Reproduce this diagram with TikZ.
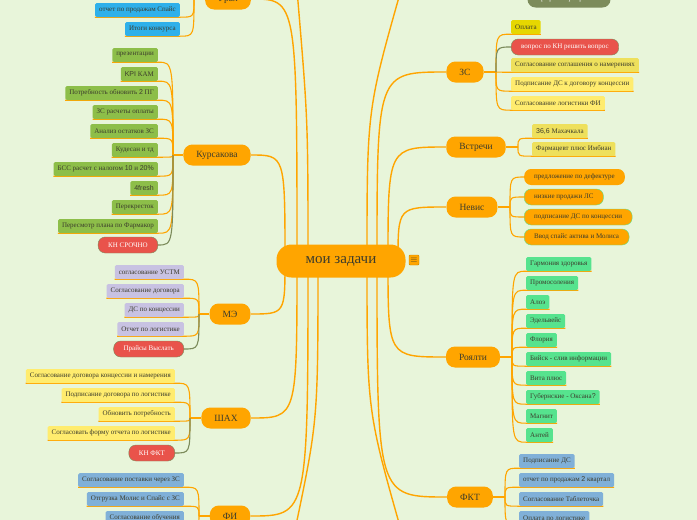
\documentclass[tikz,border=0pt]{standalone}
\usepackage{fontspec}
\setmainfont{Liberation Serif}
\newfontfamily\sansnum{Liberation Sans}
\usetikzlibrary{positioning,calc,backgrounds}
\definecolor{bgc}{HTML}{E8F5DA}
\definecolor{brorange}{HTML}{FFA500}
\definecolor{txtdk}{HTML}{3C3C2C}
\definecolor{lfgreen}{HTML}{8DBE49}
\definecolor{lfblue}{HTML}{2EB0EA}
\definecolor{lflav}{HTML}{C8C2E2}
\definecolor{lfyel}{HTML}{FFEC6E}
\definecolor{lfmust}{HTML}{E6D700}
\definecolor{lfsand}{HTML}{EEE05C}
\definecolor{lfmint}{HTML}{56E38E}
\definecolor{lfsteel}{HTML}{80B0D8}
\definecolor{redpill}{HTML}{E9534B}
\definecolor{olivedk}{HTML}{7C8B5B}
\definecolor{pillgrn}{HTML}{5FE08A}
\tikzset{
  rootnd/.style={rounded corners=15pt,fill=brorange,minimum width=129,minimum height=33,font=\fontsize{15}{17}\selectfont,text=txtdk},
  brnd/.style={rounded corners=9pt,fill=brorange,minimum height=21,inner xsep=13,font=\fontsize{9.5}{11}\selectfont,text=txtdk},
  leaf/.style={fill=#1,rounded corners=1.5pt,minimum height=14,inner xsep=4,inner ysep=0,font=\fontsize{7}{8}\selectfont,text=txtdk},
  pill/.style={fill=#1,rounded corners=7pt,minimum height=16,inner xsep=10,inner ysep=0,font=\fontsize{7}{8}\selectfont,text=txtdk},
  warnpill/.style={pill=redpill,draw=olivedk,text=white},
  rootln/.style={draw=brorange,line width=1.4pt},
  leafln/.style={draw=brorange,line width=1.1pt},
  warnln/.style={draw=olivedk,line width=1.1pt}
}
\begin{document}
\begin{tikzpicture}[x=1pt,y=-1pt]
  \useasboundingbox (0,0) rectangle (697,520);

  % centre and branches
  \node[rootnd] (root) at (341,261) {мои задачи};
  \node[fill=brorange,draw=brorange!80!black,line width=0.4pt,rounded corners=1pt,minimum size=10,inner sep=0,font=\fontsize{9}{9}\selectfont,text=txtdk] (menu) at (414,260) {$\equiv$};

  \node[brnd] (ural) at (228,-1) {Урал};
  \node[brnd] (kurs) at (217,155) {Курсакова};
  \node[brnd] (me) at (230,314) {МЭ};
  \node[brnd] (shah) at (226,418) {ШАХ};
  \node[brnd] (fi) at (230,516) {ФИ};
  \node[brnd] (zs) at (465,72) {ЗС};
  \node[brnd] (vstr) at (476,147) {Встречи};
  \node[brnd] (nevis) at (472,207) {Невис};
  \node[brnd] (royal) at (473,357) {Роялти};
  \node[brnd] (fkt) at (470,497) {ФКТ};
  \node[pill=olivedk,text=white,rounded corners=8pt,minimum height=17,inner xsep=10] (graf) at (569,-1) {График мероприятий};

  % Урал
  \node[leaf=lfblue,anchor=east] (u_spice) at (180,10) {отчет по продажам Спайс};
  \node[leaf=lfblue,anchor=east] (u_konk) at (180,29) {Итоги конкурса};

  % Курсакова
  \node[leaf=lfgreen,anchor=east] (k_pres) at (158,55) {презентации};
  \node[leaf=lfgreen,anchor=east] (k_kpi) at (158,74) {{\sansnum KPI} КАМ};
  \node[leaf=lfgreen,anchor=east] (k_pg) at (158,93) {Потребность обновить {\sansnum 2} ПГ};
  \node[leaf=lfgreen,anchor=east] (k_opl) at (158,112) {ЗС расчеты оплаты};
  \node[leaf=lfgreen,anchor=east] (k_ost) at (158,131) {Анализ остатков ЗС};
  \node[leaf=lfgreen,anchor=east] (k_kud) at (158,150) {Кудесан и тд};
  \node[leaf=lfgreen,anchor=east] (k_bss) at (158,169) {БСС расчет с налогом {\sansnum 10} и {\sansnum 20\%}};
  \node[leaf=lfgreen,anchor=east] (k_4fr) at (158,188) {\sansnum 4fresh};
  \node[leaf=lfgreen,anchor=east] (k_per) at (158,207) {Перекресток};
  \node[leaf=lfgreen,anchor=east] (k_farm) at (158,226) {Пересмотр плана по Фармакор};
  \node[warnpill,anchor=east] (k_kn) at (158,245) {КН СРОЧНО};

  % МЭ
  \node[leaf=lflav,anchor=east] (m_ustm) at (184,272) {согласование УСТМ};
  \node[leaf=lflav,anchor=east] (m_dog) at (184,291) {Согласование договора};
  \node[leaf=lflav,anchor=east] (m_ds) at (184,310) {ДС по концессии};
  \node[leaf=lflav,anchor=east] (m_log) at (184,329) {Отчет по логистике};
  \node[warnpill,anchor=east] (m_pr) at (184,349) {Прайсы Выслать};

  % ШАХ
  \node[leaf=lfyel,anchor=east] (s_konc) at (175,376) {Согласование договора концессии и намерения};
  \node[leaf=lfyel,anchor=east] (s_log) at (175,395) {Подписание договора по логистике};
  \node[leaf=lfyel,anchor=east] (s_potr) at (175,414) {Обновить потребность};
  \node[leaf=lfyel,anchor=east] (s_form) at (175,433) {Согласовать форму отчета по логистике};
  \node[warnpill,anchor=east] (s_kn) at (175,453) {КН ФКТ};

  % ФИ
  \node[leaf=lfsteel,anchor=east] (f_post) at (184,480) {Согласование поставки через ЗС};
  \node[leaf=lfsteel,anchor=east] (f_otgr) at (184,499) {Отгрузка Молис и Спайс с ЗС};
  \node[leaf=lfsteel,anchor=east] (f_obuch) at (184,518) {Согласование обучения};

  % ЗС
  \node[leaf=lfmust,anchor=west] (z_opl) at (511,27) {Оплата};
  \node[warnpill,anchor=west] (z_kn) at (511,47) {вопрос по КН решить вопрос};
  \node[leaf=lfsand,anchor=west] (z_sogl) at (511,65) {Согласование соглашения о намерениях};
  \node[leaf=lfyel,anchor=west] (z_ds) at (511,84) {Подписание ДС к договору концессии};
  \node[leaf=lfyel,anchor=west] (z_log) at (511,103) {Согласование логистики ФИ};

  % Встречи
  \node[leaf=lfsand,anchor=west] (v_mah) at (532,131) {{\sansnum 36,6} Махачкала};
  \node[leaf=lfsand,anchor=west] (v_imb) at (532,149) {Фармацевт плюс Имбиан};

  % Невис
  \node[pill=brorange,anchor=west] (n_def) at (524,177) {предложение по дефектуре};
  \node[pill=brorange,draw=pillgrn,anchor=west] (n_low) at (524,197) {низкие продажи ЛС};
  \node[pill=brorange,draw=pillgrn,anchor=west] (n_ds) at (524,217) {подписание ДС по концессии};
  \node[pill=brorange,draw=pillgrn,anchor=west] (n_vvod) at (524,237) {Ввод спайс актива и Молиса};

  % Роялти
  \node[leaf=lfmint,anchor=west] (r_garm) at (526,264) {Гармония здоровья};
  \node[leaf=lfmint,anchor=west] (r_promo) at (526,283) {Промосоления};
  \node[leaf=lfmint,anchor=west] (r_aloe) at (526,302) {Алоэ};
  \node[leaf=lfmint,anchor=west] (r_edel) at (526,321) {Эдельвейс};
  \node[leaf=lfmint,anchor=west] (r_flor) at (526,340) {Флория};
  \node[leaf=lfmint,anchor=west] (r_biysk) at (526,359) {Бийск - слив информации};
  \node[leaf=lfmint,anchor=west] (r_vita) at (526,378) {Вита плюс};
  \node[leaf=lfmint,anchor=west] (r_gub) at (526,397) {Губернские - Оксана{\sansnum ?}};
  \node[leaf=lfmint,anchor=west] (r_magn) at (526,416) {Магнит};
  \node[leaf=lfmint,anchor=west] (r_ant) at (526,435) {Антей};

  % ФКТ
  \node[leaf=lfsteel,anchor=west] (t_ds) at (519,461) {Подписание ДС};
  \node[leaf=lfsteel,anchor=west] (t_otch) at (519,480) {отчет по продажам {\sansnum 2} квартал};
  \node[leaf=lfsteel,anchor=west] (t_tabl) at (519,499) {Согласование Таблеточка};
  \node[leaf=lfsteel,anchor=west] (t_opl) at (519,518) {Оплата по логистике};

  \begin{pgfonlayer}{background}
    \fill[bgc] (0,0) rectangle (697,520);

    % root connectors
    \coordinate (rl1) at (285,261);
    \coordinate (rl2) at (297,261);
    \coordinate (rl3) at (308,261);
    \coordinate (rl4) at (318,261);
    \coordinate (rr1) at (367,261);
    \coordinate (rr2) at (377,261);
    \coordinate (rr3) at (388,261);
    \coordinate (rr4) at (398,261);
    \coordinate (offtl) at (297,-10);
    \coordinate (offbl) at (295,530);
    \coordinate (offtr) at (401,-10);
    \coordinate (offbr) at (401,530);
    \draw[rootln] (ural.east) .. controls (ural.east -| rl2) .. (rl2);
    \draw[rootln] (kurs.east) .. controls (kurs.east -| rl1) .. (rl1);
    \draw[rootln] (me.east) .. controls (me.east -| rl1) .. (rl1);
    \draw[rootln] (shah.east) .. controls (shah.east -| rl2) .. (rl2);
    \draw[rootln] (fi.east) .. controls (fi.east -| rl3) .. (rl3);
    \draw[rootln] (rl3) .. controls (308,120) .. (offtl);
    \draw[rootln] (rl4) .. controls (318,420) .. (offbl);
    \draw[rootln] (zs.west) .. controls (zs.west -| rr2) .. (rr2);
    \draw[rootln] (vstr.west) .. controls (vstr.west -| rr3) .. (rr3);
    \draw[rootln] (nevis.west) .. controls (nevis.west -| rr4) .. (rr4);
    \draw[rootln] (royal.west) .. controls (royal.west -| rr3) .. (rr3);
    \draw[rootln] (fkt.west) .. controls (fkt.west -| rr2) .. (rr2);
    \draw[rootln] (rr1) .. controls (367,110) .. (offtr);
    \draw[rootln] (rr1) .. controls (367,410) .. (offbr);

    % branch forks
    \coordinate (urfork) at (194,-1);
    \coordinate (kfork) at (173,155);
    \coordinate (mfork) at (199,314);
    \coordinate (sfork) at (190,418);
    \coordinate (ffork) at (199,516);
    \coordinate (zfork) at (496,72);
    \coordinate (vfork) at (518,147);
    \coordinate (nfork) at (510,207);
    \coordinate (rfork) at (512,357);
    \coordinate (tfork) at (505,497);
    \draw[leafln] (ural.west) -- (urfork);
    \draw[leafln] (kurs.west) -- (kfork);
    \draw[leafln] (me.west) -- (mfork);
    \draw[leafln] (shah.west) -- (sfork);
    \draw[leafln] (fi.west) -- (ffork);
    \draw[leafln] (zs.east) -- (zfork);
    \draw[leafln] (vstr.east) -- (vfork);
    \draw[leafln] (nevis.east) -- (nfork);
    \draw[leafln] (royal.east) -- (rfork);
    \draw[leafln] (fkt.east) -- (tfork);

    % left leaves
    \foreach \lf/\fk in {u_spice/urfork,u_konk/urfork,
        k_pres/kfork,k_kpi/kfork,k_pg/kfork,k_opl/kfork,k_ost/kfork,k_kud/kfork,k_bss/kfork,k_4fr/kfork,k_per/kfork,k_farm/kfork,
        m_ustm/mfork,m_dog/mfork,m_ds/mfork,m_log/mfork,
        s_konc/sfork,s_log/sfork,s_potr/sfork,s_form/sfork,
        f_post/ffork,f_otgr/ffork,f_obuch/ffork}
      \draw[leafln] (\fk) .. controls (\fk |- \lf.south east) .. (\lf.south east) -- (\lf.south west);
    \draw[warnln] (kfork) .. controls (kfork |- k_kn.east) .. (k_kn.east);
    \draw[warnln] (mfork) .. controls (mfork |- m_pr.east) .. (m_pr.east);
    \draw[warnln] (sfork) .. controls (sfork |- s_kn.east) .. (s_kn.east);

    % right leaves
    \foreach \lf/\fk in {z_opl/zfork,z_sogl/zfork,z_ds/zfork,z_log/zfork,
        v_mah/vfork,v_imb/vfork,
        r_garm/rfork,r_promo/rfork,r_aloe/rfork,r_edel/rfork,r_flor/rfork,r_biysk/rfork,r_vita/rfork,r_gub/rfork,r_magn/rfork,r_ant/rfork,
        t_ds/tfork,t_otch/tfork,t_tabl/tfork,t_opl/tfork}
      \draw[leafln] (\fk) .. controls (\fk |- \lf.south west) .. (\lf.south west) -- (\lf.south east);
    \draw[warnln] (zfork) .. controls (zfork |- z_kn.west) .. (z_kn.west);
    \foreach \lf in {n_def,n_low,n_ds,n_vvod}
      \draw[leafln] (nfork) .. controls (nfork |- \lf.west) .. (\lf.west);
  \end{pgfonlayer}
\end{tikzpicture}
\end{document}
